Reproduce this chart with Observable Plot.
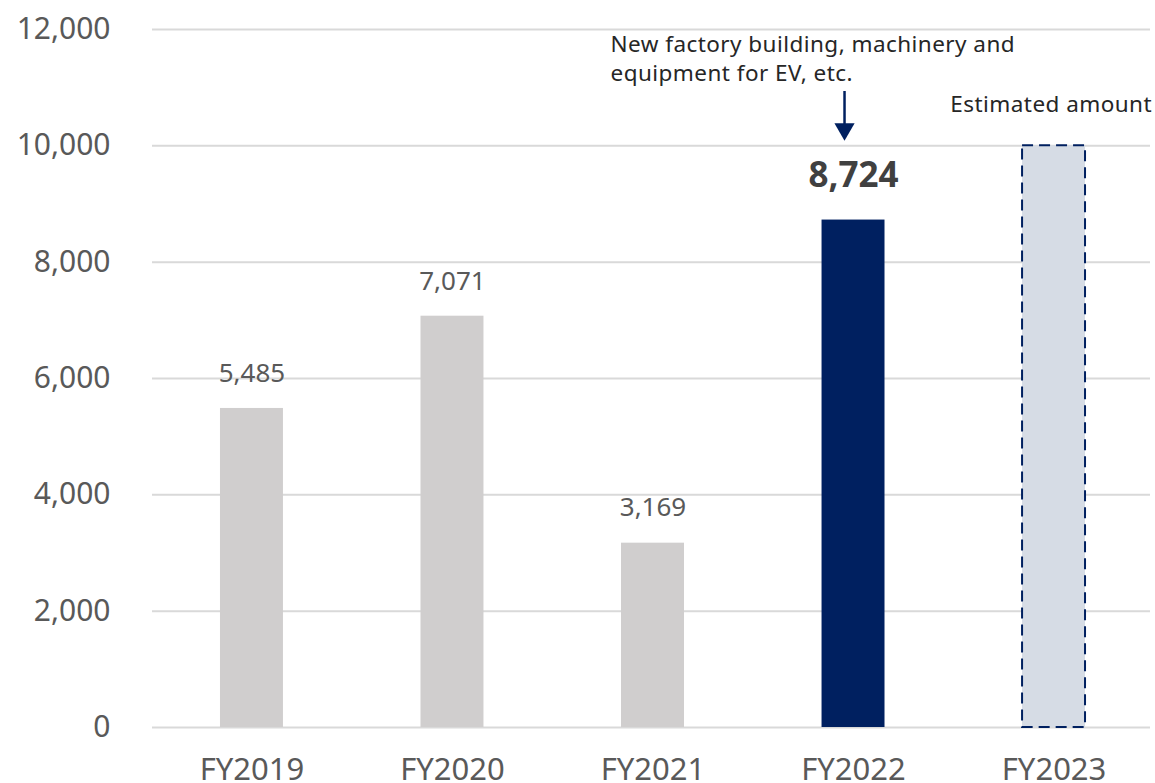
<!DOCTYPE html>
<html><head><meta charset="utf-8">
<script src="https://cdn.jsdelivr.net/npm/d3@7"></script>
<script src="https://cdn.jsdelivr.net/npm/@observablehq/plot@0.6"></script>
<style>body{margin:0;background:#fff;} svg{display:block;} .note text{letter-spacing:0.45px;}</style>
</head><body><div id="chart"></div>
<script>
const categories = ["FY2019","FY2020","FY2021","FY2022","FY2023"];
const values = [5485, 7071, 3169, 8724, 10000];
const kinds = ["actual","actual","actual","highlight","estimate"];
const yTicks = [0,2000,4000,6000,8000,10000,12000];
const noteLines = ["New factory building, machinery and","equipment for EV, etc."];
const estimateLabel = "Estimated amount";

const data = categories.map((c,i)=>({cat:c, value:values[i], kind:kinds[i]}));
const actual = data.filter(d=>d.kind==="actual");
const highlight = data.filter(d=>d.kind==="highlight");
const estimate = data.filter(d=>d.kind==="estimate");

const font = "'Noto Sans', 'DejaVu Sans', sans-serif";
const fmt = d3.format(",");

const chart = Plot.plot({
  width: 1155, height: 783,
  marginTop: 29, marginBottom: 56, marginLeft: 152, marginRight: 2,
  style: {fontFamily: font, background: "#fff"},
  x: {domain: categories, paddingInner: 0.686, paddingOuter: 0.339, round: false, label: null},
  y: {domain: [0, 12000], label: null},
  marks: [
    Plot.gridY(yTicks, {stroke: "#d9d9d9", strokeOpacity: 1, strokeWidth: 2, insetRight: 3}),
    Plot.axisY(yTicks, {tickSize: 0, tickPadding: 42, tickFormat: fmt, fontSize: 30, fill: "#595959", label: null}),
    Plot.axisX({tickSize: 0, tickPadding: 30, fontSize: 31, fill: "#595959", label: null}),
    Plot.barY(actual, {x: "cat", y: "value", fill: "#d0cece"}),
    Plot.barY(highlight, {x: "cat", y: "value", fill: "#002060"}),
    Plot.barY(estimate, {x: "cat", y: "value", fill: "#d6dce5", stroke: "#002060", strokeWidth: 2, strokeDasharray: "11,6"}),
    Plot.text(actual, {x: "cat", y: "value", text: d=>fmt(d.value), dy: -35, fontSize: 26, fill: "#595959"}),
    Plot.text(highlight, {x: "cat", y: "value", text: d=>fmt(d.value), dy: -44, fontSize: 35, fontWeight: "bold", fill: "#404040"}),
    // annotation arrow
    Plot.ruleX(highlight, {x: "cat", y1: 10934, y2: 10330, dx: -9, stroke: "#002060", strokeWidth: 2.5}),
    Plot.dot(highlight, {x: "cat", y: 10290, dx: -9, symbol: "triangle", r: 7.5, rotate: 180, fill: "#002060", stroke: "none"}),
    Plot.text(highlight, {x: "cat", y: 11950, text: () => noteLines.join("\n"), dx: -243, textAnchor: "start", lineAnchor: "top", lineHeight: 1.25, fontSize: 22.5, fill: "#262626", className: "note"}),
    Plot.text(estimate, {x: "cat", y: 10700, text: () => estimateLabel, dx: 98, textAnchor: "end", fontSize: 22.5, fill: "#262626", className: "note"})
  ]
});
document.getElementById("chart").appendChild(chart);
</script>
</body></html>
